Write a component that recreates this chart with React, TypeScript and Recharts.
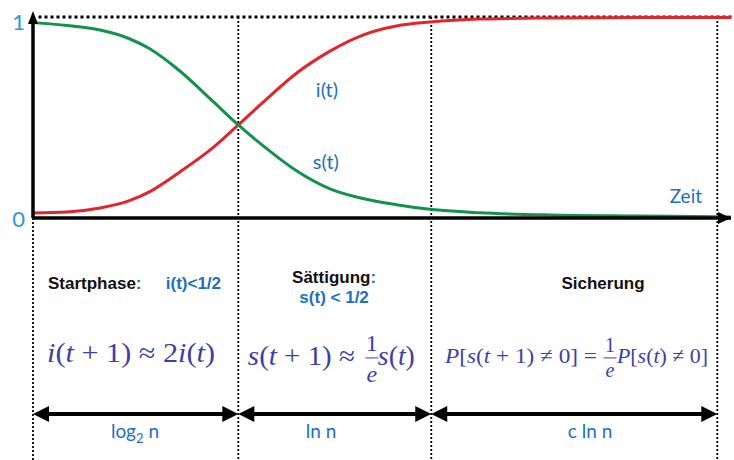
import { ComposedChart, Line, XAxis, YAxis, ReferenceLine, ReferenceDot } from 'recharts'

// time axis (arbitrary units, 100 = end of the last phase)
const time = [0, 5, 9.8, 14, 17, 21.5, 26.3, 30, 33.6, 38.5, 43.4, 48.2, 53.1, 58, 65.3, 75.5, 88.6, 100, 102]
// i(t): informed fraction
const infected = [0.025, 0.03, 0.05, 0.085, 0.13, 0.23, 0.35, 0.463, 0.575, 0.72, 0.83, 0.91, 0.955, 0.975, 0.99, 0.995, 0.997, 0.998, 0.998]
// s(t): susceptible fraction
const susceptible = [0.972, 0.958, 0.935, 0.893, 0.843, 0.73, 0.58, 0.463, 0.36, 0.235, 0.145, 0.097, 0.066, 0.043, 0.026, 0.015, 0.01, 0.006, 0.005]

const phaseBounds = [0, 30, 58.2, 100]
const spanLabelX = [14.9, 42.1, 81.4]

const data = time.map((t, k) => ({ t, i: infected[k], s: susceptible[k] }))

const BLUE = '#1d6fc0'
const MATH = '#3c3eaa'
const SANS = '"Liberation Sans", Arial, sans-serif'
const GEO = 'Lato, "Open Sans", sans-serif'
const SERIF = '"Liberation Serif", "Times New Roman", serif'

const arrowUp = (p: any) => (
  <path d={`M${p.cx},${p.cy} L${p.cx - 5},${p.cy + 13} L${p.cx + 5},${p.cy + 13} Z`} fill="#000" />
)
const arrowRight = (p: any) => (
  <path d={`M${p.cx},${p.cy} L${p.cx - 13},${p.cy - 6} L${p.cx - 13},${p.cy + 6} Z`} fill="#000" />
)

const doubleArrow = (p: any) => {
  const { x1, y1, x2 } = p
  const h = 8
  const L = 16
  return (
    <g>
      <line x1={x1 + 6} y1={y1} x2={x2 - 6} y2={y1} stroke="#000" strokeWidth={4} />
      <path d={`M${x1},${y1} L${x1 + L},${y1 - h} L${x1 + L},${y1 + h} Z`} fill="#000" />
      <path d={`M${x2},${y1} L${x2 - L},${y1 - h} L${x2 - L},${y1 + h} Z`} fill="#000" />
    </g>
  )
}

const label = (content: any, style: any) => (p: any) => (
  <text x={p.cx} y={p.cy} {...style}>
    {content}
  </text>
)

const it = (s: string) => <tspan fontStyle="italic">{s}</tspan>

const fraction = (cx: number, cy: number, d1: number, dBar: number, dE: number, w: number, size: number) => (
  <g fill={MATH} fontFamily={SERIF} fontSize={size}>
    <text x={cx} y={cy + d1} textAnchor="middle">1</text>
    <line x1={cx - w / 2} y1={cy + dBar} x2={cx + w / 2} y2={cy + dBar} stroke={MATH} strokeWidth={1} />
    <text x={cx} y={cy + dE} textAnchor="middle" fontStyle="italic">e</text>
  </g>
)

const math = { fill: MATH, fontFamily: SERIF, lengthAdjust: 'spacingAndGlyphs' as const }

const formula1 = (p: any) => (
  <text x={p.cx} y={p.cy} {...math} fontSize={27} textLength={168}>
    {it('i')}({it('t')} + 1) ≈ 2{it('i')}({it('t')})
  </text>
)

const formula2 = (p: any) => (
  <g>
    <text x={p.cx} y={p.cy} {...math} fontSize={27} textLength={107}>
      {it('s')}({it('t')} + 1) ≈
    </text>
    {fraction(p.cx + 124, p.cy, -14, -7, 17, 13, 24)}
    <text x={p.cx + 130} y={p.cy} {...math} fontSize={27} textLength={37}>
      {it('s')}({it('t')})
    </text>
  </g>
)

const formula3 = (p: any) => (
  <g>
    <text x={p.cx} y={p.cy} {...math} fontSize={22} textLength={152}>
      {it('P')}[{it('s')}({it('t')} + 1) ≠ 0] =
    </text>
    {fraction(p.cx + 165, p.cy, -11, -5, 14, 13, 20)}
    <text x={p.cx + 172} y={p.cy} {...math} fontSize={22} textLength={91}>
      {it('P')}[{it('s')}({it('t')}) ≠ 0]
    </text>
  </g>
)

const yTick = (p: any) => (
  <text
    x={p.x}
    y={p.y + (p.payload.value === 1 ? 4 : 0)}
    textAnchor="end"
    dominantBaseline="central"
    fill="#2a98dc"
    fontFamily={GEO}
    fontSize={22}
  >
    {p.payload.value}
  </text>
)

const dotted = { stroke: '#000', strokeWidth: 1.8, strokeDasharray: '2 2' }
const bottom = -1.204
const bold = { fontFamily: SANS, fontWeight: 700, fontSize: 17 }

export default function App() {
  return (
    <div style={{ position: 'absolute', left: 0, top: 0, background: '#fff' }}>
      <ComposedChart width={734} height={460} data={data} margin={{ top: 17, right: 3, left: 0, bottom: 241 }}>
        <XAxis
          dataKey="t"
          type="number"
          domain={[0, 102]}
          tick={false}
          tickLine={false}
          height={1}
          axisLine={{ stroke: '#000', strokeWidth: 3.5 }}
        />
        <YAxis
          type="number"
          domain={[0, 1]}
          ticks={[0, 1]}
          width={33}
          tickLine={false}
          tickSize={0}
          tickMargin={8}
          tick={yTick}
          axisLine={{ stroke: '#000', strokeWidth: 3.5 }}
        />

        <ReferenceLine
          segment={[{ x: 0.8, y: 1 }, { x: 102.5, y: 1 }]}
          ifOverflow="visible"
          stroke="#000"
          strokeWidth={3}
          strokeDasharray="3 3"
        />
        <ReferenceLine segment={[{ x: 0, y: 0 }, { x: 0, y: bottom }]} ifOverflow="visible" {...dotted} />
        {phaseBounds.slice(1).map((b) => (
          <ReferenceLine key={b} segment={[{ x: b, y: 1 }, { x: b, y: bottom }]} ifOverflow="visible" {...dotted} />
        ))}

        <Line dataKey="i" type="monotone" stroke="#e0252c" strokeWidth={3} dot={false} isAnimationActive={false} />
        <Line dataKey="s" type="monotone" stroke="#12924a" strokeWidth={3} dot={false} isAnimationActive={false} />

        <ReferenceDot x={0} y={1.03} r={1} ifOverflow="visible" shape={arrowUp} />
        <ReferenceDot x={102} y={0} r={1} ifOverflow="visible" shape={arrowRight} />

        <ReferenceDot x={42.96} y={0.642} r={1} ifOverflow="visible"
          shape={label('i(t)', { fill: BLUE, fontFamily: GEO, fontSize: 20, textAnchor: 'middle', dominantBaseline: 'central' })} />
        <ReferenceDot x={42.8} y={0.285} r={1} ifOverflow="visible"
          shape={label('s(t)', { fill: BLUE, fontFamily: GEO, fontSize: 20, textAnchor: 'middle', dominantBaseline: 'central' })} />
        <ReferenceDot x={95.4} y={0.114} r={1} ifOverflow="visible"
          shape={label('Zeit', { fill: BLUE, fontFamily: GEO, fontSize: 19, textAnchor: 'middle', dominantBaseline: 'central' })} />

        <ReferenceDot x={2.19} y={-0.353} r={1} ifOverflow="visible"
          shape={label(<>Startphase<tspan fill={BLUE}>:</tspan></>, { fill: '#111', ...bold })} />
        <ReferenceDot x={19.4} y={-0.353} r={1} ifOverflow="visible"
          shape={label('i(t)<1/2', { fill: BLUE, ...bold })} />
        <ReferenceDot x={44} y={-0.323} r={1} ifOverflow="visible"
          shape={label(<>Sättigung<tspan fill={BLUE}>:</tspan></>, { fill: '#111', ...bold, textAnchor: 'middle' })} />
        <ReferenceDot x={44} y={-0.423} r={1} ifOverflow="visible"
          shape={label('s(t) < 1/2', { fill: BLUE, ...bold, textAnchor: 'middle' })} />
        <ReferenceDot x={83.3} y={-0.353} r={1} ifOverflow="visible"
          shape={label('Sicherung', { fill: '#111', ...bold, textAnchor: 'middle' })} />

        <ReferenceDot x={2.05} y={-0.716} r={1} ifOverflow="visible" shape={formula1} />
        <ReferenceDot x={31.4} y={-0.731} r={1} ifOverflow="visible" shape={formula2} />
        <ReferenceDot x={60.2} y={-0.721} r={1} ifOverflow="visible" shape={formula3} />

        {phaseBounds.slice(0, -1).map((b, k) => (
          <ReferenceLine
            key={`span${k}`}
            segment={[{ x: b, y: -0.975 }, { x: phaseBounds[k + 1], y: -0.975 }]}
            ifOverflow="visible"
            shape={doubleArrow}
          />
        ))}
        <ReferenceDot x={spanLabelX[0]} y={-1.095} r={1} ifOverflow="visible"
          shape={label(<>log<tspan dy={5} fontSize={13}>2</tspan><tspan dy={-5}> n</tspan></>, { fill: BLUE, fontFamily: GEO, fontSize: 19, textAnchor: 'middle' })} />
        <ReferenceDot x={spanLabelX[1]} y={-1.095} r={1} ifOverflow="visible"
          shape={label('ln n', { fill: BLUE, fontFamily: GEO, fontSize: 19, textAnchor: 'middle' })} />
        <ReferenceDot x={spanLabelX[2]} y={-1.095} r={1} ifOverflow="visible"
          shape={label('c ln n', { fill: BLUE, fontFamily: GEO, fontSize: 19, textAnchor: 'middle' })} />
      </ComposedChart>
    </div>
  )
}
